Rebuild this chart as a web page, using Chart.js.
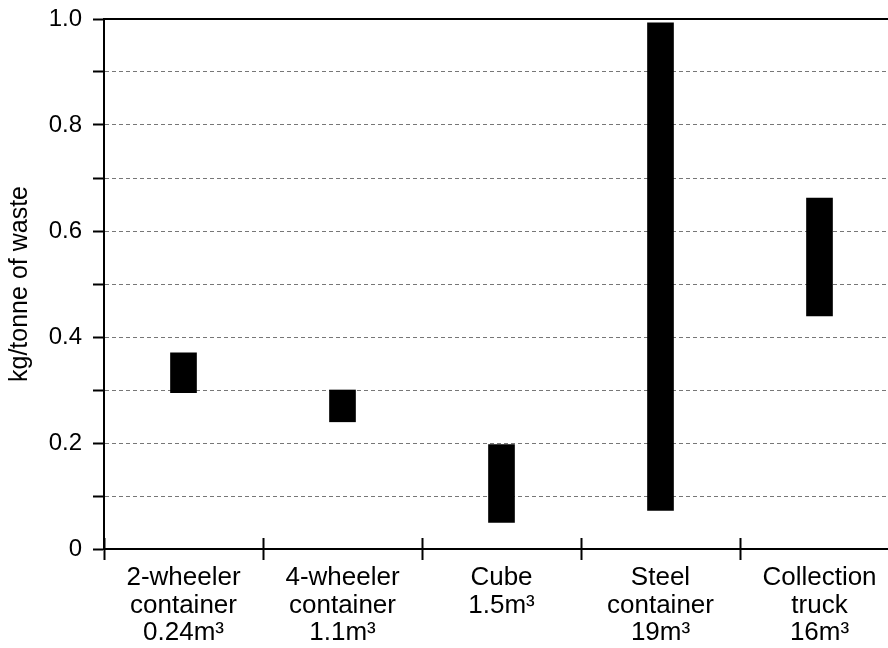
<!DOCTYPE html>
<html>
<head>
<meta charset="utf-8">
<script src="https://cdn.jsdelivr.net/npm/chart.js@4/dist/chart.umd.min.js"></script>
<style>
  html, body { margin: 0; padding: 0; background: #fff; overflow: hidden; }
  #wrap { width: 900px; height: 648px; position: relative; }
</style>
</head>
<body>
<div id="wrap"><canvas id="c"></canvas></div>
<script>
const categories = [
  ['2-wheeler', 'container', '0.24m³'],
  ['4-wheeler', 'container', '1.1m³'],
  ['Cube', '1.5m³'],
  ['Steel', 'container', '19m³'],
  ['Collection', 'truck', '16m³']
];
const lowValues  = [0.295, 0.24, 0.05, 0.073, 0.44];
const highValues = [0.37, 0.30, 0.197, 0.993, 0.662];
const yTickLabels = ['0', '', '0.2', '', '0.4', '', '0.6', '', '0.8', '', '1.0'];
const yTitle = 'kg/tonne of waste';

const FONT = '"Liberation Sans", Arial, Helvetica, sans-serif';

new Chart(document.getElementById('c'), {
  type: 'bar',
  data: {
    labels: categories,
    datasets: [{
      data: lowValues.map((l, i) => [l, highValues[i]]),
      backgroundColor: '#000',
      borderWidth: 0,
      barThickness: 26
    }]
  },
  options: {
    responsive: true,
    maintainAspectRatio: false,
    animation: false,
    layout: { padding: { left: 0, right: 1, top: 0, bottom: 0 } },
    plugins: { legend: { display: false }, tooltip: { enabled: false } },
    scales: {
      x: {
        type: 'category',
        position: 'bottom',
        offset: true,
        grid: {
          offset: true,
          drawOnChartArea: false,
          drawTicks: true,
          tickLength: 11,
          tickWidth: 2,
          tickColor: '#000'
        },
        border: { display: true, color: '#000', width: 2 },
        ticks: {
          color: '#000',
          font: { family: FONT, size: 26, lineHeight: 1.06 },
          padding: 4,
          maxRotation: 0,
          minRotation: 0,
          autoSkip: false
        },
        afterFit: (s) => { s.height = 99; s.paddingLeft = 0; s.paddingRight = 0; }
      },
      xUp: {
        type: 'category',
        position: { y: 0 },
        offset: true,
        grid: {
          offset: true,
          drawOnChartArea: false,
          drawTicks: true,
          tickLength: -11,
          tickWidth: 2,
          tickColor: '#000'
        },
        border: { display: false },
        ticks: { display: false },
        afterFit: (s) => { s.height = 0; }
      },
      xTop: {
        type: 'category',
        position: 'top',
        offset: true,
        grid: { display: false, drawTicks: false },
        border: { display: true, color: '#000', width: 2 },
        ticks: { display: false },
        afterFit: (s) => { s.height = 19; }
      },
      y: {
        type: 'linear',
        position: 'left',
        min: 0,
        max: 1,
        ticks: {
          stepSize: 0.1,
          color: '#000',
          font: { family: FONT, size: 24 },
          padding: 11,
          callback: (v, i) => yTickLabels[i]
        },
        grid: {
          drawOnChartArea: true,
          drawTicks: true,
          tickLength: 11,
          tickWidth: 2,
          tickColor: '#000',
          lineWidth: 1,
          color: (ctx) => {
            const v = ctx.tick ? ctx.tick.value : null;
            if (v === null) return '#777';
            if (Math.abs(v) < 1e-6 || Math.abs(v - 1) < 1e-6) return 'rgba(0,0,0,0)';
            return '#777';
          }
        },
        border: { display: true, color: '#000', width: 2, dash: [4, 3] },
        title: {
          display: true,
          text: yTitle,
          color: '#000',
          font: { family: FONT, size: 25 },
          padding: { top: 5, bottom: 0 }
        },
        afterFit: (s) => { s.width = 104; s.paddingTop = 0; s.paddingBottom = 0; }
      }
    }
  }
});
</script>
</body>
</html>
